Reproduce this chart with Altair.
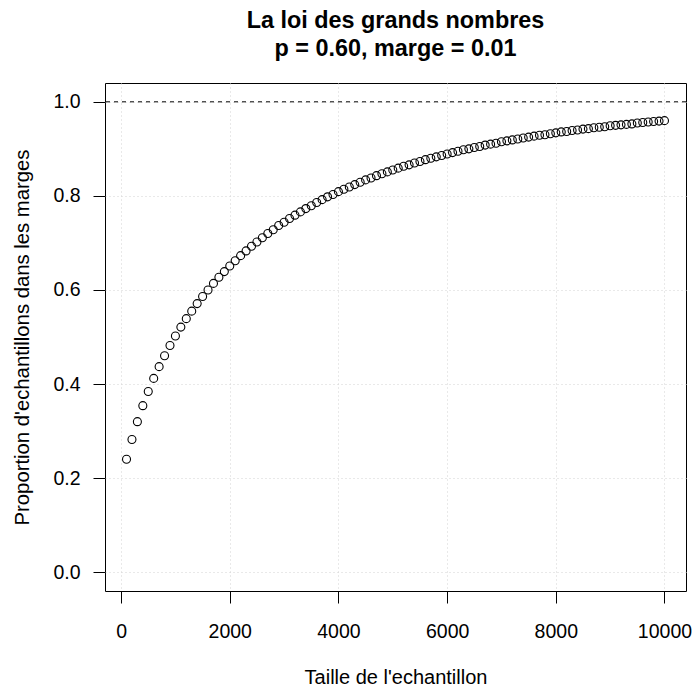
import altair as alt
import pandas as pd

# Sample sizes and proportion of samples within the margin
taille = list(range(100, 10001, 100))
proportion = [
    0.240, 0.282, 0.320, 0.354, 0.384, 0.412, 0.437, 0.460, 0.482, 0.502,
    0.521, 0.539, 0.555, 0.571, 0.586, 0.600, 0.614, 0.627, 0.639, 0.651,
    0.662, 0.673, 0.683, 0.693, 0.702, 0.711, 0.720, 0.728, 0.737, 0.744,
    0.752, 0.759, 0.766, 0.773, 0.779, 0.786, 0.792, 0.798, 0.803, 0.809,
    0.814, 0.819, 0.824, 0.829, 0.834, 0.838, 0.843, 0.847, 0.851, 0.855,
    0.859, 0.863, 0.866, 0.870, 0.873, 0.877, 0.880, 0.883, 0.886, 0.889,
    0.892, 0.895, 0.898, 0.900, 0.903, 0.905, 0.908, 0.910, 0.912, 0.915,
    0.917, 0.919, 0.921, 0.923, 0.925, 0.927, 0.929, 0.930, 0.932, 0.934,
    0.936, 0.937, 0.939, 0.940, 0.942, 0.943, 0.945, 0.946, 0.947, 0.949,
    0.950, 0.951, 0.952, 0.953, 0.955, 0.956, 0.957, 0.958, 0.959, 0.960,
]
x_ticks = [0, 2000, 4000, 6000, 8000, 10000]
y_ticks = [0.0, 0.2, 0.4, 0.6, 0.8, 1.0]
reference = [1.0]

df = pd.DataFrame({"taille": taille, "proportion": proportion})
ref_df = pd.DataFrame({"ref": reference})

FONT = "Liberation Sans"

x_scale = alt.Scale(domain=[-296, 10396], nice=False, zero=False)
y_scale = alt.Scale(domain=[-0.04, 1.04], nice=False, zero=False)

x_axis = alt.Axis(
    values=x_ticks, format="d", title="Taille de l'echantillon",
    domain=False, tickSize=12, tickColor="black", tickWidth=1, tickOpacity=1,
    labelFontSize=19.5, labelColor="black", labelFont=FONT,
    labelBaseline="alphabetic", labelPadding=34, labelFlush=False,
    labelOverlap=False,
    grid=True, gridColor="#D3D3D3", gridDash=[1, 3], gridWidth=1, gridOpacity=1,
    titleFontSize=20, titleFont=FONT, titleFontWeight="normal",
    titleColor="black", titleBaseline="alphabetic", titleY=92,
)
y_axis = alt.Axis(
    values=y_ticks, format=".1f", title="Proportion d'echantillons dans les marges",
    domain=False, tickSize=12, tickColor="black", tickWidth=1, tickOpacity=1,
    labelFontSize=19.5, labelColor="black", labelFont=FONT,
    labelPadding=13, labelFlush=False, labelOverlap=False,
    grid=True, gridColor="#D3D3D3", gridDash=[1, 3], gridWidth=1, gridOpacity=1,
    titleFontSize=20.3, titleFont=FONT, titleFontWeight="normal",
    titleColor="black", titleBaseline="alphabetic", titleX=-77, titleAngle=-90,
)

points = alt.Chart(df).mark_point(
    shape="circle", filled=False, color="black", strokeWidth=1.1, size=64, opacity=1
).encode(
    x=alt.X("taille:Q", scale=x_scale, axis=x_axis),
    y=alt.Y("proportion:Q", scale=y_scale, axis=y_axis),
)

rule = alt.Chart(ref_df).mark_rule(
    color="black", strokeWidth=1, strokeDash=[4, 4]
).encode(y=alt.Y("ref:Q", scale=y_scale))

chart = alt.layer(rule, points).properties(
    width=581,
    height=508,
    autosize=alt.AutoSizeParams(type="none"),
    padding={"left": 105, "top": 83, "right": 8, "bottom": 98},
    title=alt.TitleParams(
        text=["La loi des grands nombres", "p = 0.60, marge = 0.01"],
        fontSize=23.4, font=FONT, fontWeight="bold", color="black",
        anchor="middle", lineHeight=28, offset=22,
    ),
).configure(
    background="white",
    view=alt.ViewConfig(stroke="black", strokeWidth=1, strokeOpacity=1),
)

chart.save("out.html", embed_options={"renderer": "svg", "actions": False})
